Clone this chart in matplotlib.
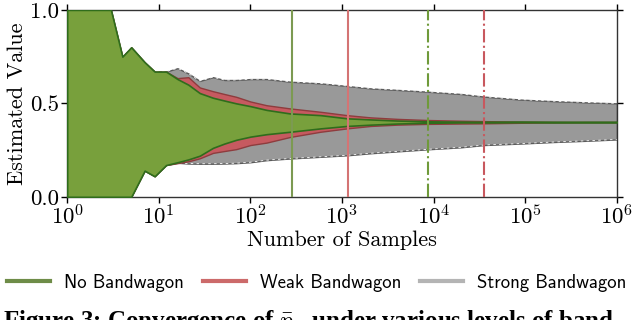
import matplotlib
matplotlib.use("Agg")
import matplotlib.pyplot as plt
from matplotlib.lines import Line2D

plt.rcParams['mathtext.fontset'] = 'cm'
plt.rcParams['axes.formatter.use_mathtext'] = True

# sample counts (log grid)
n = [1, 2, 3, 4, 5, 7, 9, 12, 16, 21, 28, 39, 52, 70, 100, 150, 270, 580,
     1130, 2050, 4000, 8500, 20000, 35600, 90000, 200000, 480000, 1000000]

# No Bandwagon band
no_hi = [1.0, 1.0, 1.0, 0.75, 0.80, 0.72, 0.67, 0.67, 0.63, 0.60, 0.555, 0.53, 0.515, 0.50,
         0.485, 0.465, 0.446, 0.437, 0.42, 0.414, 0.408, 0.404, 0.402, 0.401, 0.401, 0.40, 0.40, 0.40]
no_lo = [0.0, 0.0, 0.0, 0.0, 0.0, 0.14, 0.11, 0.17, 0.185, 0.20, 0.22, 0.262, 0.285, 0.305,
         0.322, 0.335, 0.348, 0.366, 0.379, 0.386, 0.392, 0.396, 0.398, 0.399, 0.40, 0.40, 0.40, 0.40]

# Weak Bandwagon band
weak_hi = [1.0, 1.0, 1.0, 0.75, 0.80, 0.72, 0.67, 0.67, 0.635, 0.64, 0.585, 0.565, 0.55, 0.535,
           0.51, 0.49, 0.473, 0.455, 0.437, 0.425, 0.417, 0.411, 0.407, 0.405, 0.402, 0.401, 0.40, 0.40]
weak_lo = [0.0, 0.0, 0.0, 0.0, 0.0, 0.14, 0.11, 0.17, 0.18, 0.19, 0.206, 0.235, 0.245, 0.255,
           0.277, 0.29, 0.32, 0.348, 0.366, 0.379, 0.386, 0.39, 0.392, 0.393, 0.396, 0.398, 0.40, 0.40]

# Strong Bandwagon band
strong_hi = [1.0, 1.0, 1.0, 0.75, 0.80, 0.72, 0.67, 0.67, 0.688, 0.66, 0.62, 0.64, 0.625, 0.625,
             0.63, 0.63, 0.616, 0.607, 0.593, 0.58, 0.572, 0.5625, 0.55, 0.536, 0.52, 0.512, 0.505, 0.50]
strong_lo = [0.0, 0.0, 0.0, 0.0, 0.0, 0.14, 0.11, 0.17, 0.182, 0.178, 0.177, 0.177, 0.178, 0.18,
             0.185, 0.196, 0.205, 0.214, 0.222, 0.233, 0.243, 0.254, 0.265, 0.277, 0.285, 0.293, 0.30, 0.307]

# convergence markers
conv_solid = [284, 1166]
conv_dashdot = [8560, 35100]

x_ticks = [1, 1e1, 1e2, 1e3, 1e4, 1e5, 1e6]
x_ticklabels = ['$10^{0}$', '$10^{1}$', '$10^{2}$', '$10^{3}$', '$10^{4}$', '$10^{5}$', '$10^{6}$']
y_ticks = [0, 0.5, 1.0]
y_ticklabels = ['0.0', '0.5', '1.0']

green_fill = '#78a03c'
green_edge = '#2f6d1c'
red_fill = '#c65a60'
red_edge = '#8e3c3e'
grey_fill = '#999999'
grey_edge = '#5a5a5a'

fig = plt.figure(figsize=(6.4, 3.2), dpi=100)
ax = fig.add_axes([0.105, 0.385, 0.859, 0.584])

ax.fill_between(n, strong_lo, strong_hi, facecolor=grey_fill, edgecolor=grey_edge, lw=1.0, zorder=1)
ax.plot(n, strong_hi, color='white', lw=0.6, ls=(0, (3, 4)), zorder=1.1)
ax.plot(n, strong_lo, color='white', lw=0.6, ls=(0, (3, 4)), zorder=1.1)
ax.fill_between(n, weak_lo, weak_hi, facecolor=red_fill, edgecolor=red_edge, lw=1.0, zorder=2)
ax.fill_between(n, no_lo, no_hi, facecolor=green_fill, edgecolor=green_edge, lw=1.2, zorder=3)

ax.axvline(conv_solid[0], color='#7c9a52', lw=1.5, zorder=4)
ax.axvline(conv_solid[1], color='#d47474', lw=1.5, zorder=4)
ax.axvline(conv_dashdot[0], color='#6f9a3a', lw=1.5, ls='-.', zorder=4)
ax.axvline(conv_dashdot[1], color='#c8585e', lw=1.5, ls='-.', zorder=4)

ax.set_xscale('log')
ax.set_xlim(1, 1e6)
ax.set_ylim(0, 1)
ax.set_xticks(x_ticks)
ax.set_xticklabels(x_ticklabels)
ax.minorticks_off()
ax.set_yticks(y_ticks)
ax.set_yticklabels(y_ticklabels)
ax.tick_params(direction='out', top=True, right=True, length=4, width=1, labelsize=16.5, pad=2)
for lab in ax.get_yticklabels():
    lab.set_family('cmr10')
for s in ax.spines.values():
    s.set_color('#333333')
    s.set_linewidth(1.0)

ax.set_xlabel('Number of Samples', family='cmr10', fontsize=16, labelpad=1)
ax.set_ylabel('Estimated Value', family='cmr10', fontsize=16, labelpad=2)

handles = [Line2D([], [], color='#6e8c48', lw=3),
           Line2D([], [], color='#cc6a6a', lw=3),
           Line2D([], [], color='#b4b4b4', lw=3)]
fig.legend(handles, ['No Bandwagon', 'Weak Bandwagon', 'Strong Bandwagon'],
           loc='center left', bbox_to_anchor=(0.011, 0.116), ncol=3, frameon=False,
           prop={'family': 'cmss10', 'size': 13.5}, handlelength=2.3, columnspacing=1.0,
           handletextpad=0.75, borderaxespad=0, borderpad=0)

fig.text(0.005, 0.0375, r'Figure 3: Convergence of $\bar{p}_n$ under various levels of band-',
         family='Liberation Serif', weight='bold', fontsize=18, va='top', ha='left')

fig.savefig('out.png', dpi=100)
